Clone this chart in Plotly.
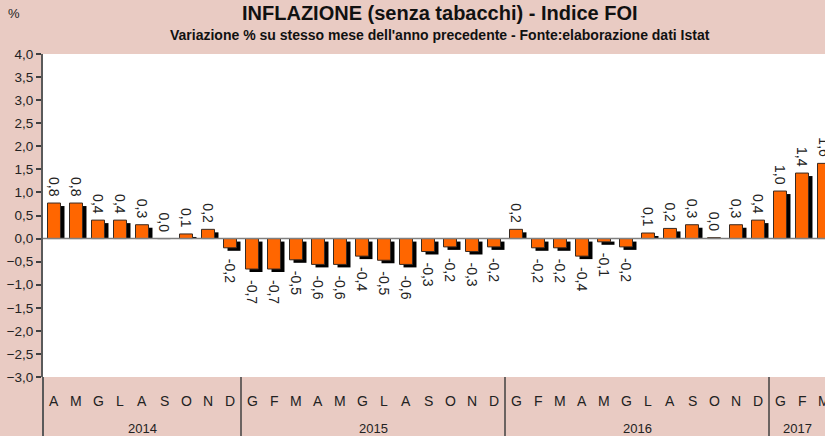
import plotly.graph_objects as go

# ---- data ----
years = ["2014", "2015", "2016", "2017"]
months_2014 = ["A", "M", "G", "L", "A", "S", "O", "N", "D"]
months_2015 = ["G", "F", "M", "A", "M", "G", "L", "A", "S", "O", "N", "D"]
months_2016 = ["G", "F", "M", "A", "M", "G", "L", "A", "S", "O", "N", "D"]
months_2017 = ["G", "F", "M"]
values_2014 = [0.77, 0.77, 0.40, 0.40, 0.30, 0.0, 0.10, 0.20, -0.20]
values_2015 = [-0.66, -0.66, -0.46, -0.56, -0.56, -0.38, -0.47, -0.56, -0.28, -0.18, -0.28, -0.18]
values_2016 = [0.20, -0.20, -0.20, -0.38, -0.07, -0.18, 0.12, 0.22, 0.30, 0.02, 0.30, 0.40]
values_2017 = [1.03, 1.42, 1.63]
y_ticks = [-3.0, -2.5, -2.0, -1.5, -1.0, -0.5, 0.0, 0.5, 1.0, 1.5, 2.0, 2.5, 3.0, 3.5, 4.0]

title = "INFLAZIONE (senza tabacchi) - Indice FOI"
subtitle = "Variazione % su stesso mese dell'anno precedente - Fonte:elaborazione dati Istat"

month_groups = [months_2014, months_2015, months_2016, months_2017]
value_groups = [values_2014, values_2015, values_2016, values_2017]

months = [m for g in month_groups for m in g]
values = [v for g in value_groups for v in g]
idx = list(range(len(values)))

# ---- layout constants ----
W, H = 825, 436
ML, MR, MT, MB = 43, 0, 54, 59
plot_w = W - ML - MR
plot_h = H - MT - MB
cat_px = 22.0
xmin = -0.5
xmax = xmin + plot_w / cat_px
ymin, ymax = -3.0, 4.0
px_per_unit = plot_h / (ymax - ymin)

PINK = "#E9CBC3"
ORANGE = "#FF6600"
FONT = "Liberation Sans, Arial, sans-serif"

bar_w = 0.59
sh_dx = 4 / cat_px
sh_dy = 3 / px_per_unit

sh_base = [0 if v >= 0 else -sh_dy for v in values]
sh_len = [max(v - sh_dy, 0) if v >= 0 else v for v in values]

fig = go.Figure()
fig.add_trace(go.Bar(
    x=idx, y=sh_len, base=sh_base, width=bar_w, offset=-bar_w / 2 + sh_dx,
    marker=dict(color="#000000", line=dict(width=0)),
    hoverinfo="skip", showlegend=False,
))
fig.add_trace(go.Bar(
    x=idx, y=values, width=bar_w, offset=-bar_w / 2,
    marker=dict(color=ORANGE, line=dict(color="#3a2a20", width=1)),
    showlegend=False,
))

annotations = []
# value labels (rotated)
for i, v in zip(idx, values):
    txt = f"{v:.1f}".replace(".", ",")
    if v >= 0:
        annotations.append(dict(x=i, y=v, xref="x", yref="y", text=txt, textangle=90,
                                showarrow=False, yanchor="bottom", xanchor="center", yshift=4,
                                font=dict(family=FONT, size=14, color="#222222")))
    else:
        annotations.append(dict(x=i, y=v, xref="x", yref="y", text=txt, textangle=90,
                                showarrow=False, yanchor="top", xanchor="center", yshift=-9,
                                font=dict(family=FONT, size=14, color="#222222")))

# month letters
month_y = -(401 - (MT + plot_h)) / plot_h
for i, m in zip(idx, months):
    annotations.append(dict(x=i, y=month_y, xref="x", yref="paper", text=m, showarrow=False,
                            xanchor="center", yanchor="middle",
                            font=dict(family=FONT, size=14, color="#222222")))

# year labels and separators
shapes = []
year_y = -(428 - (MT + plot_h)) / plot_h
bottom_y = -MB / plot_h
start = 0
for k, (yr, g) in enumerate(zip(years, month_groups)):
    end = start + len(g) - 1
    left = start - 0.5
    right = min(end + 0.5, xmax)
    annotations.append(dict(x=(left + right) / 2, y=year_y, xref="x", yref="paper", text=yr,
                            showarrow=False, xanchor="center", yanchor="middle",
                            font=dict(family=FONT, size=13, color="#222222")))
    if k > 0:
        shapes.append(dict(type="line", xref="x", yref="paper", x0=left, x1=left,
                           y0=0, y1=bottom_y, line=dict(color="#404040", width=1.5)))
    start = end + 1

# y axis extension to bottom
shapes.append(dict(type="line", xref="paper", yref="paper", x0=0, x1=0, y0=0, y1=bottom_y,
                   line=dict(color="#5a5a5a", width=2)))
# zero line above bars
shapes.append(dict(type="line", xref="paper", yref="y", x0=0, x1=1, y0=0, y1=0,
                   line=dict(color="#7f7f7f", width=1.5), layer="above"))

# titles
tx = (440 - ML) / plot_w
annotations.append(dict(x=tx, y=1 + (MT - 13) / plot_h, xref="paper", yref="paper", text=f"<b>{title}</b>",
                        showarrow=False, xanchor="center", yanchor="middle",
                        font=dict(family=FONT, size=20, color="#111111")))
annotations.append(dict(x=tx, y=1 + (MT - 35) / plot_h, xref="paper", yref="paper", text=f"<b>{subtitle}</b>",
                        showarrow=False, xanchor="center", yanchor="middle",
                        font=dict(family=FONT, size=14, color="#111111")))
annotations.append(dict(x=(14 - ML) / plot_w, y=1 + (MT - 13) / plot_h, xref="paper", yref="paper", text="%",
                        showarrow=False, xanchor="center", yanchor="middle",
                        font=dict(family=FONT, size=13, color="#222222")))

fig.update_layout(
    width=W, height=H,
    margin=dict(l=ML, r=MR, t=MT, b=MB, pad=0),
    paper_bgcolor=PINK, plot_bgcolor="#FFFFFF",
    barmode="overlay", separators=", ",
    annotations=annotations, shapes=shapes,
    font=dict(family=FONT, color="#222222"),
    xaxis=dict(range=[xmin, xmax], showticklabels=False, ticks="", showgrid=False,
               zeroline=False, showline=False, fixedrange=True),
    yaxis=dict(range=[ymin, ymax], tickvals=y_ticks, tickformat=".1f", ticks="outside",
               ticklen=5, tickcolor="#404040", tickwidth=1.5, showgrid=False, zeroline=False,
               showline=True, linecolor="#5a5a5a", linewidth=2,
               tickfont=dict(family=FONT, size=13.5, color="#222222")),
    yaxis2=dict(range=[ymin, ymax], tickvals=y_ticks, overlaying="y", side="left",
                ticks="inside", ticklen=5, tickcolor="#404040", tickwidth=1.5,
                showticklabels=False, showgrid=False, zeroline=False, showline=False),
)

fig.write_html("out.html", config={"displayModeBar": False},
               post_script="document.body.style.margin='0';document.body.style.overflow='hidden';")
